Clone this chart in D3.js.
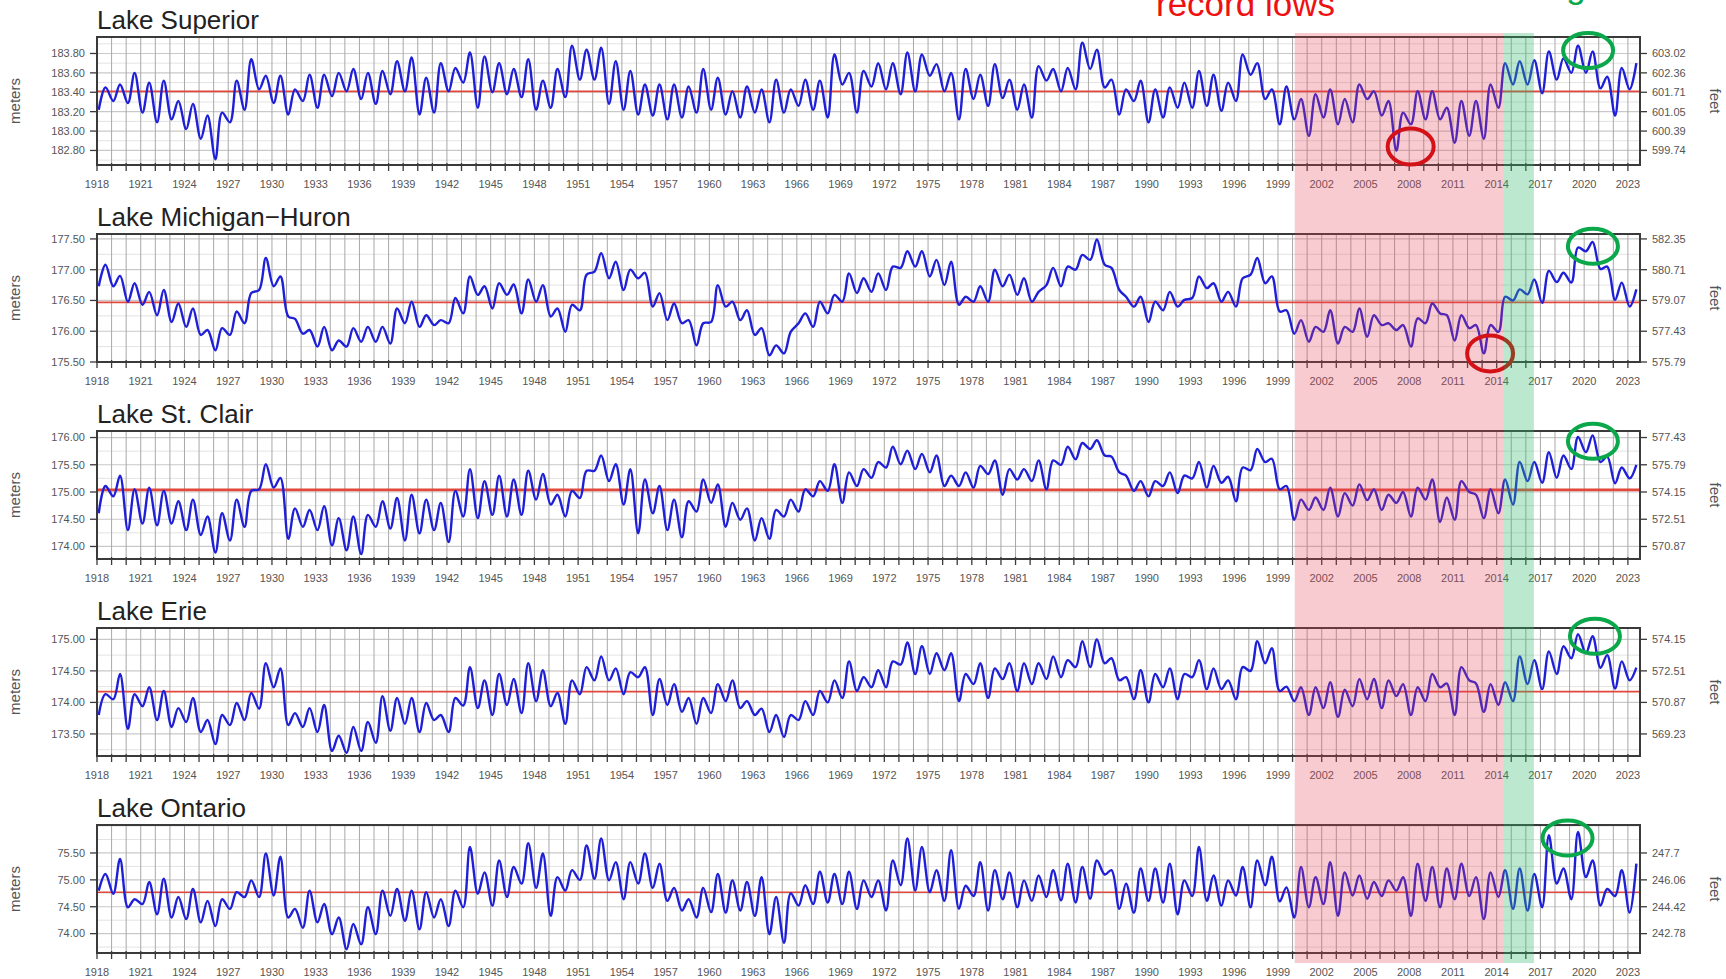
<!DOCTYPE html>
<html><head><meta charset="utf-8">
<script src="https://cdn.jsdelivr.net/npm/d3@7"></script>
<style>
html,body{margin:0;padding:0;background:#fff;overflow:hidden}
svg{display:block;font-family:"Liberation Sans",Arial,Helvetica,sans-serif}
</style></head><body>
<svg id="chart" width="1726" height="979"></svg>
<script>
// ---------------- DATA ----------------
const startYear = 1918, endYear = 2023;
const lakeNames = ["Lake Superior", "Lake Michigan\u2212Huron", "Lake St. Clair", "Lake Erie", "Lake Ontario"];
// seasonal low (late winter) and high (summer) water level per year, metres
const superiorLow = [183.22,183.31,183.29,183.19,183.09,183.12,183.02,182.92,182.71,183.09,
183.22,183.43,183.29,183.17,183.31,183.24,183.36,183.41,183.33,183.28,
183.38,183.41,183.17,183.19,183.41,183.50,183.24,183.40,183.38,183.35,
183.22,183.24,183.35,183.53,183.53,183.28,183.22,183.17,183.16,183.12,
183.14,183.19,183.22,183.17,183.14,183.19,183.09,183.19,183.26,183.22,
183.14,183.48,183.19,183.46,183.43,183.38,183.41,183.57,183.41,183.12,
183.33,183.26,183.34,183.22,183.14,183.52,183.41,183.43,183.64,183.45,
183.17,183.31,183.09,183.14,183.24,183.24,183.26,183.21,183.31,183.58,
183.33,183.07,183.12,182.95,183.14,183.07,183.09,183.33,183.16,182.80,
183.07,183.12,183.12,182.88,182.95,182.92,183.24,183.48,183.48,183.39,
183.53,183.60,183.60,183.44,183.16,183.43];
const superiorHigh = [183.45,183.48,183.60,183.50,183.52,183.31,183.28,183.16,183.19,183.52,
183.74,183.57,183.57,183.43,183.58,183.58,183.60,183.64,183.60,183.62,
183.72,183.76,183.55,183.70,183.65,183.81,183.77,183.70,183.64,183.74,
183.52,183.64,183.88,183.84,183.86,183.72,183.62,183.48,183.48,183.48,
183.46,183.64,183.55,183.41,183.46,183.43,183.53,183.43,183.53,183.52,
183.79,183.60,183.62,183.70,183.70,183.81,183.79,183.69,183.60,183.64,
183.58,183.69,183.53,183.48,183.67,183.64,183.65,183.91,183.84,183.53,
183.43,183.52,183.43,183.45,183.50,183.62,183.58,183.50,183.79,183.70,
183.43,183.46,183.33,183.38,183.43,183.33,183.48,183.41,183.31,183.19,
183.41,183.41,183.24,183.31,183.31,183.48,183.70,183.72,183.73,183.82,
183.75,183.88,183.82,183.56,183.65,183.70];
const michHuronLow = [176.73,176.73,176.48,176.43,176.26,176.15,176.07,175.94,175.69,175.94,
176.13,176.67,176.73,176.24,175.96,175.75,175.69,175.75,175.83,175.83,
175.80,176.13,176.07,176.10,176.13,176.29,176.59,176.37,176.59,176.29,
176.48,176.24,175.99,176.34,176.97,176.86,176.67,176.86,176.40,176.18,
176.13,175.77,176.15,176.40,176.18,175.94,175.61,175.64,176.13,176.07,
176.29,176.48,176.62,176.64,176.67,177.03,177.05,176.89,176.75,176.43,
176.48,176.48,176.73,176.59,176.48,176.75,176.73,177.00,177.16,177.08,
176.67,176.40,176.15,176.34,176.40,176.54,176.70,176.48,176.40,176.92,
176.78,176.32,175.96,175.83,175.99,175.80,175.99,175.91,176.10,176.02,
175.75,176.13,176.29,175.85,176.05,175.64,175.99,176.50,176.60,176.46,
176.80,176.79,177.30,177.01,176.51,176.40];
const michHuronHigh = [177.08,176.90,176.78,176.64,176.67,176.45,176.37,176.02,176.05,176.32,
176.62,177.19,176.89,176.20,176.02,176.07,175.85,176.05,176.07,176.07,
176.37,176.48,176.26,176.18,176.54,176.89,176.73,176.78,176.76,176.84,
176.75,176.37,176.43,176.92,177.27,177.13,177.00,176.95,176.62,176.45,
176.18,176.13,176.75,176.48,176.34,176.05,175.77,175.99,176.29,176.48,
176.59,176.94,176.86,176.94,177.05,177.30,177.30,177.16,177.13,176.56,
176.73,177.00,176.92,176.86,176.64,177.03,177.05,177.24,177.49,177.03,
176.56,176.56,176.48,176.64,176.51,176.89,176.78,176.64,176.86,177.19,
176.89,176.34,176.18,176.07,176.34,176.07,176.37,176.26,176.13,176.10,
176.21,176.45,176.26,176.26,176.10,176.10,176.56,176.68,176.84,176.98,
176.95,177.36,177.45,177.05,176.79,176.68];
const stClairLow = [174.61,174.92,174.30,174.42,174.39,174.42,174.30,174.21,173.89,174.11,
174.36,175.05,175.08,174.14,174.36,174.30,174.02,173.93,173.86,174.36,
174.33,174.11,174.24,174.30,174.08,174.55,174.52,174.58,174.55,174.58,
174.86,174.77,174.55,174.89,175.39,175.20,174.77,174.24,174.61,174.30,
174.17,174.64,174.80,174.36,174.49,174.11,174.14,174.55,174.64,174.92,
175.02,174.80,175.11,175.26,175.45,175.51,175.42,175.36,175.11,175.11,
175.08,175.33,174.95,175.23,175.20,175.05,175.50,175.60,175.79,175.67,
175.36,175.02,174.92,175.11,174.98,175.25,175.08,175.17,174.83,175.40,
175.55,175.05,174.49,174.67,174.67,174.55,174.75,174.85,174.67,174.80,
174.55,174.86,174.45,174.49,175.00,174.52,174.61,174.77,175.20,175.17,
175.26,175.42,175.73,175.55,175.16,175.25];
const stClairHigh = [175.11,175.30,175.05,175.08,175.02,174.83,174.86,174.55,174.61,174.86,
175.02,175.51,175.26,174.70,174.67,174.74,174.52,174.55,174.58,174.83,
174.89,174.95,174.86,174.80,175.02,175.42,175.20,175.30,175.23,175.39,
175.33,174.95,175.02,175.39,175.67,175.51,175.42,175.23,175.11,174.86,
174.83,175.23,175.14,174.80,174.70,174.52,174.67,174.86,175.05,175.20,
175.51,175.36,175.42,175.55,175.83,175.76,175.70,175.67,175.30,175.36,
175.48,175.58,175.42,175.42,175.58,175.58,175.83,175.90,175.95,175.65,
175.30,175.20,175.20,175.36,175.30,175.55,175.48,175.28,175.45,175.79,
175.61,175.11,174.86,174.90,175.08,174.98,175.14,175.05,174.95,175.00,
175.08,175.23,174.90,175.20,174.95,175.05,175.23,175.55,175.55,175.73,
175.67,176.01,176.04,175.65,175.45,175.50];
const erieLow = [173.80,174.05,173.58,173.94,173.72,173.61,173.69,173.53,173.34,173.64,
173.72,173.90,174.24,173.64,173.61,173.53,173.23,173.20,173.23,173.36,
173.55,173.66,173.53,173.72,173.53,173.95,173.91,173.80,173.96,173.83,
174.02,173.94,173.66,174.13,174.35,174.35,174.13,174.40,173.80,173.96,
173.85,173.66,173.83,174.02,173.91,173.80,173.53,173.45,173.72,173.80,
174.00,174.07,174.18,174.24,174.24,174.60,174.45,174.45,174.51,174.02,
174.29,174.07,174.37,174.18,174.29,174.37,174.40,174.56,174.56,174.62,
174.35,174.05,174.00,174.24,174.05,174.40,174.21,174.21,174.05,174.50,
174.62,174.18,174.02,173.80,173.91,173.77,173.94,174.05,173.91,174.10,
173.80,174.02,174.24,173.80,174.35,173.85,173.96,174.02,174.29,174.21,
174.45,174.70,174.78,174.55,174.22,174.35];
const erieHigh = [174.13,174.45,174.13,174.24,174.18,173.91,174.07,173.72,173.80,173.99,
174.15,174.62,174.54,173.83,173.91,173.96,173.47,173.61,173.69,174.10,
174.07,174.07,173.99,173.80,174.07,174.56,174.35,174.45,174.37,174.62,
174.51,174.15,174.35,174.56,174.73,174.54,174.48,174.56,174.37,174.29,
174.07,174.07,174.29,174.35,174.02,173.90,173.80,173.80,174.02,174.18,
174.35,174.65,174.40,174.51,174.65,174.95,174.89,174.78,174.78,174.45,
174.62,174.54,174.62,174.62,174.62,174.73,174.67,174.97,175.00,174.70,
174.40,174.51,174.45,174.54,174.45,174.67,174.54,174.35,174.56,174.97,
174.86,174.25,174.24,174.24,174.32,174.20,174.37,174.37,174.35,174.29,
174.24,174.45,174.30,174.56,174.30,174.29,174.32,174.73,174.67,174.81,
174.89,175.08,175.05,174.75,174.65,174.55];
const ontarioLow = [74.80,74.74,74.49,74.55,74.36,74.30,74.27,74.21,74.14,74.46,
74.68,74.68,74.71,74.30,74.11,74.21,73.99,73.71,73.80,73.99,
74.33,74.24,74.08,74.30,74.14,74.49,74.74,74.52,74.68,74.93,
74.85,74.33,74.80,75.00,75.02,74.99,74.64,74.93,74.85,74.61,
74.43,74.30,74.40,74.39,74.43,74.33,73.99,73.83,74.52,74.55,
74.58,74.55,74.46,74.68,74.43,74.90,74.80,74.77,74.61,74.46,
74.70,74.43,74.64,74.49,74.61,74.68,74.62,74.58,74.65,75.10,
74.46,74.39,74.61,74.58,74.36,74.70,74.61,74.52,74.71,74.49,
74.90,74.60,74.30,74.49,74.55,74.33,74.71,74.65,74.70,74.80,
74.33,74.61,74.49,74.64,74.70,74.27,74.68,74.46,74.43,74.49,
74.93,74.64,75.05,74.52,74.70,74.39];
const ontarioHigh = [75.11,75.39,74.64,74.96,75.02,74.68,74.83,74.61,74.64,74.77,
74.99,75.49,75.43,74.46,74.80,74.55,74.30,74.18,74.49,74.80,
74.83,74.80,74.77,74.64,74.80,75.61,75.14,75.36,75.24,75.68,
75.49,75.05,75.18,75.64,75.77,75.33,75.33,75.49,75.30,74.85,
74.64,74.85,75.11,74.99,74.96,75.05,74.68,74.75,74.90,75.15,
75.11,75.15,74.99,74.99,75.36,75.77,75.61,75.18,75.55,74.89,
75.33,75.18,75.14,74.99,75.08,75.18,75.30,75.24,75.36,75.18,
74.93,75.21,75.21,75.30,74.99,75.61,75.08,74.99,75.24,75.36,
75.43,74.86,75.24,75.05,75.33,75.14,75.08,74.96,74.99,75.05,
75.30,75.24,75.21,75.30,75.05,75.14,75.18,75.21,75.11,75.83,
75.21,75.89,75.36,74.83,75.18,75.30];
const lowSeries = [superiorLow, michHuronLow, stClairLow, erieLow, ontarioLow];
const highSeries = [superiorHigh, michHuronHigh, stClairHigh, erieHigh, ontarioHigh];
const lowPhase = 0.12, highPhase = 0.58;   // fraction of the year of the seasonal low / high
const meanLevels = [183.41, 176.47, 175.04, 174.17, 74.77];
const yDomains = [[182.65,183.97],[175.50,177.58],[173.77,176.12],[173.15,175.18],[73.64,76.02]];
const yTicks = [[182.8,183.0,183.2,183.4,183.6,183.8],[175.5,176.0,176.5,177.0,177.5],
                [174.0,174.5,175.0,175.5,176.0],[173.5,174.0,174.5,175.0],[74.0,74.5,75.0,75.5]];
const feetPerMetre = 3.28084;
const xDomainEnd = 2023.83;
const recordLowPeriod = [2000.15, 2014.5];
const recordHighPeriod = [2014.5, 2016.55];
const recordLowMarks = [{panel:0, year:2008.1, value:182.84}, {panel:1, year:2013.55, value:175.64}];
const recordHighMarks = [{panel:0, year:2020.27, value:183.83}, {panel:1, year:2020.6, value:177.38},
  {panel:2, year:2020.6, value:175.93}, {panel:3, year:2020.74, value:175.05}, {panel:4, year:2018.86, value:75.78}];

// ---------------- LAYOUT ----------------
const W = 1726, H = 979;
const left = 97, right = 1640, top0 = 37, step = 197, ph = 128;
const svg = d3.select("#chart");
const x = d3.scaleLinear().domain([startYear, xDomainEnd]).range([left, right]);
const years = d3.range(startYear, endYear + 1);
const labelYears = d3.range(startYear, endYear + 1, 3);

svg.append("defs").append("clipPath").attr("id","plotclip")
  .append("rect").attr("x", left).attr("y", 0).attr("width", right-left).attr("height", H);

lakeNames.forEach((name, i) => {
  const top = top0 + step*i, bottom = top + ph;
  const y = d3.scaleLinear().domain(yDomains[i]).range([bottom, top]);
  const g = svg.append("g");
  const ticks = yTicks[i];
  const tstep = ticks[1]-ticks[0];
  // minor horizontal grid
  const minor = [];
  for (let v = ticks[0]-tstep/2; v <= yDomains[i][1]; v += tstep/2) {
    if (v >= yDomains[i][0] && !ticks.some(t => Math.abs(t-v) < 1e-6)) minor.push(v);
  }
  g.selectAll(".hmin").data(minor).join("line")
    .attr("x1", left).attr("x2", right).attr("y1", d=>y(d)).attr("y2", d=>y(d))
    .attr("stroke", "#e3e3e3").attr("stroke-width", 1);
  g.selectAll(".hmaj").data(ticks).join("line")
    .attr("x1", left).attr("x2", right).attr("y1", d=>y(d)).attr("y2", d=>y(d))
    .attr("stroke", "#c9c9c9").attr("stroke-width", 1.2);
  // vertical grid each year
  g.selectAll(".vg").data(years).join("line")
    .attr("x1", d=>x(d)).attr("x2", d=>x(d)).attr("y1", top).attr("y2", bottom)
    .attr("stroke", "#a8a8a8").attr("stroke-width", 1);
  // mean line
  g.append("line").attr("x1", left).attr("x2", right)
    .attr("y1", y(meanLevels[i])).attr("y2", y(meanLevels[i]))
    .attr("stroke", "#e2493c").attr("stroke-width", i === 2 ? 2.6 : 1.7);
  // data line
  const pts = [];
  years.forEach((yr, k) => {
    pts.push([yr + lowPhase, lowSeries[i][k]]);
    pts.push([yr + highPhase, highSeries[i][k]]);
  });
  const line = d3.line().x(d=>x(d[0])).y(d=>y(d[1])).curve(d3.curveCatmullRom.alpha(0.5));
  g.append("path").attr("d", line(pts)).attr("fill","none")
    .attr("stroke", "#1f1fd8").attr("stroke-width", 2.4).attr("stroke-linejoin","round")
    .attr("clip-path","url(#plotclip)");
  // frame
  g.append("rect").attr("x", left).attr("y", top).attr("width", right-left).attr("height", ph)
    .attr("fill","none").attr("stroke","#3a3a3a").attr("stroke-width", 2);
  // x axis ticks & labels
  g.selectAll(".xt").data(years).join("line")
    .attr("x1", d=>x(d)).attr("x2", d=>x(d)).attr("y1", bottom-2).attr("y2", bottom+6)
    .attr("stroke","#3a3a3a").attr("stroke-width", 1.3);
  g.selectAll(".xl").data(labelYears).join("text")
    .attr("x", d=>x(d)).attr("y", bottom+23).attr("text-anchor","middle")
    .attr("font-size", 11).attr("fill","#555").text(d=>d);
  // left axis
  g.selectAll(".lt").data(ticks).join("line")
    .attr("x1", left-7).attr("x2", left).attr("y1", d=>y(d)).attr("y2", d=>y(d))
    .attr("stroke","#3a3a3a").attr("stroke-width", 1.3);
  g.selectAll(".ll").data(ticks).join("text")
    .attr("x", left-12).attr("y", d=>y(d)).attr("dy","0.35em").attr("text-anchor","end")
    .attr("font-size", 11).attr("fill","#555").text(d=>d.toFixed(2));
  // right axis (feet)
  g.selectAll(".rt").data(ticks).join("line")
    .attr("x1", right).attr("x2", right+7).attr("y1", d=>y(d)).attr("y2", d=>y(d))
    .attr("stroke","#3a3a3a").attr("stroke-width", 1.3);
  g.selectAll(".rl").data(ticks).join("text")
    .attr("x", right+12).attr("y", d=>y(d)).attr("dy","0.35em").attr("text-anchor","start")
    .attr("font-size", 11).attr("fill","#555")
    .text(d=>(d*feetPerMetre).toFixed(2).replace(/0$/, ""));
  // axis titles
  const cy = top + ph/2;
  g.append("text").attr("transform", `translate(20,${cy}) rotate(-90)`).attr("text-anchor","middle")
    .attr("font-size", 15).attr("fill","#555").text("meters");
  g.append("text").attr("transform", `translate(1710,${cy}) rotate(90)`).attr("text-anchor","middle")
    .attr("font-size", 15).attr("fill","#555").text("feet");
  // panel title
  g.append("text").attr("x", left).attr("y", top-8).attr("font-size", 26).attr("fill","#222").text(name);

  // annotation ellipses
  recordLowMarks.filter(m=>m.panel===i).forEach(m => {
    g.append("ellipse").attr("cx", x(m.year)).attr("cy", y(m.value)).attr("rx", 23).attr("ry", 18)
      .attr("fill","none").attr("stroke","#cc0000").attr("stroke-width", 4);
  });
  recordHighMarks.filter(m=>m.panel===i).forEach(m => {
    g.append("ellipse").attr("cx", x(m.year)).attr("cy", y(m.value)).attr("rx", 25).attr("ry", 17.5)
      .attr("fill","none").attr("stroke","#0aa84a").attr("stroke-width", 4);
  });
});

// shaded periods (overlay)
const shadeTop = 33, shadeBottom = 963;
svg.append("rect").attr("x", x(recordLowPeriod[0])).attr("y", shadeTop)
  .attr("width", x(recordLowPeriod[1]) - x(recordLowPeriod[0])).attr("height", shadeBottom-shadeTop)
  .attr("fill", "rgb(228,62,84)").attr("opacity", 0.27);
svg.append("rect").attr("x", x(recordHighPeriod[0])).attr("y", shadeTop)
  .attr("width", x(recordHighPeriod[1]) - x(recordHighPeriod[0])).attr("height", shadeBottom-shadeTop)
  .attr("fill", "rgb(50,185,110)").attr("opacity", 0.33);

// annotation texts (partly cut by the top edge)
svg.append("text").attr("x", 1156).attr("y", 15.5).attr("font-size", 35).attr("fill","#ee1111").text("record lows");
svg.append("text").attr("x", 1430).attr("y", -2.5).attr("font-size", 35).attr("fill","#0aa84a").text("record highs");
</script>
</body></html>
